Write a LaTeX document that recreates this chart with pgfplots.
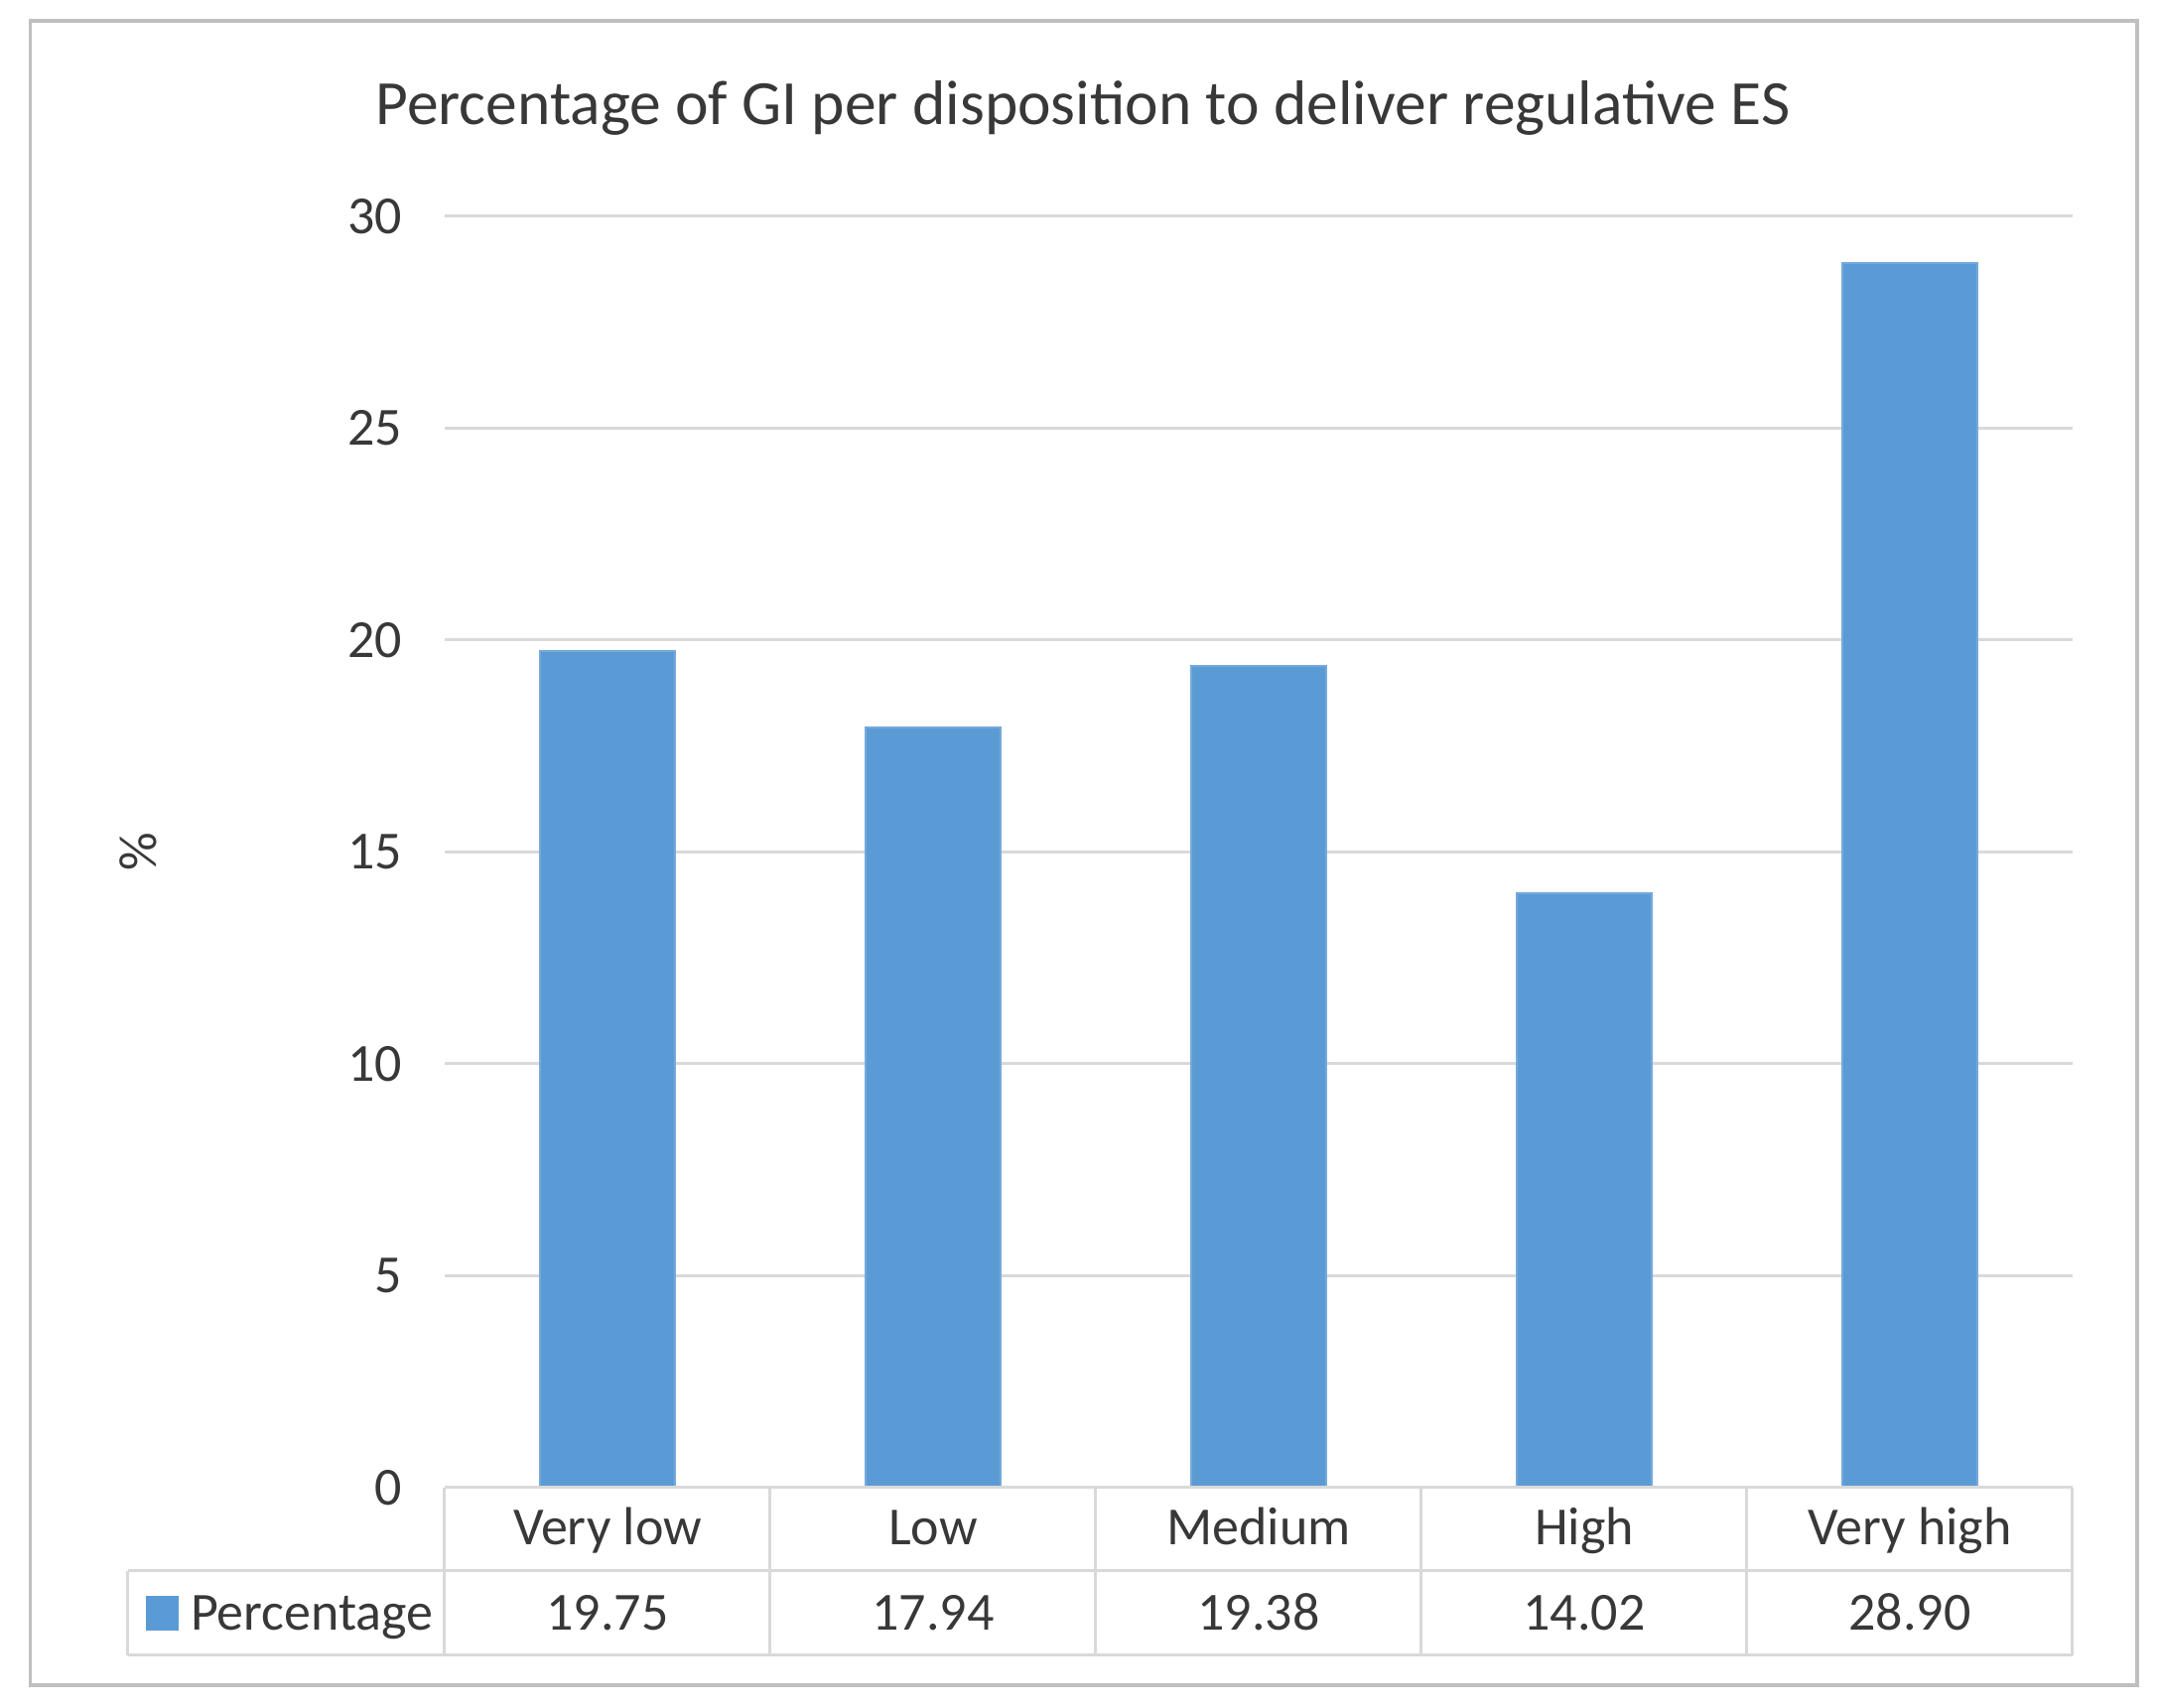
\documentclass[border=0pt]{standalone}
\usepackage{pgfplots}
\pgfplotsset{compat=1.18}
\usepackage{fontspec}
\setmainfont{Carlito}
\definecolor{barblue}{HTML}{5B9BD5}
\definecolor{gridgray}{HTML}{D9D9D9}
\definecolor{txt}{HTML}{383838}
\definecolor{bordergray}{HTML}{BFBFBF}
\begin{document}
\begin{tikzpicture}
\path (0pt,0pt) rectangle (434.8pt,344.2pt);
\draw[bordergray, line width=0.7pt] (6.1pt,4.6pt) rectangle (430.6pt,340pt);
\begin{axis}[
  at={(89.6pt,44.4pt)}, anchor=south west,
  scale only axis, width=328pt, height=256.2pt,
  xmin=-0.5, xmax=4.5, ymin=0, ymax=30,
  ytick={0,5,...,30},
  xtick={0,1,2,3,4},
  xticklabels={Very low,Low,Medium,High,Very high},
  axis line style={draw=none},
  tick style={draw=none},
  ymajorgrids,
  grid style={gridgray, line width=0.6pt},
  clip=false,
  ticklabel style={font=\fontsize{10.8}{13}\selectfont, text=txt},
  /pgf/number format/assume math mode=true,
  xticklabel style={anchor=base, yshift=-11.6pt},
  yticklabel style={xshift=-5pt},
  title={Percentage of GI per disposition to deliver regulative ES},
  title style={at={(axis description cs:0.392,1)}, anchor=center, yshift=15.8pt, font=\fontsize{12.7}{15}\selectfont, text=txt},
  ylabel={\%},
  ylabel style={at={(axis description cs:-0.188,0.5)}, anchor=center, font=\fontsize{10.8}{13}\selectfont, text=txt},
]
\addplot[ybar, bar width=27.2pt, fill=barblue, draw=barblue!85!white] coordinates {
  (0,19.75) (1,17.94) (2,19.38) (3,14.02) (4,28.90)
};
% data table
\draw[gridgray, line width=0.6pt] (axis cs:-0.5,0) -- (axis cs:4.5,0);
\draw[gridgray, line width=0.6pt] (axis cs:-1.4726,-1.967) -- (axis cs:4.5,-1.967);
\draw[gridgray, line width=0.6pt] (axis cs:-1.4726,-3.958) -- (axis cs:4.5,-3.958);
\draw[gridgray, line width=0.6pt] (axis cs:-1.4726,-1.967) -- (axis cs:-1.4726,-3.958);
\draw[gridgray, line width=0.6pt] (axis cs:-0.5,0) -- (axis cs:-0.5,-3.958);
\draw[gridgray, line width=0.6pt] (axis cs:0.5,0) -- (axis cs:0.5,-3.958);
\draw[gridgray, line width=0.6pt] (axis cs:1.5,0) -- (axis cs:1.5,-3.958);
\draw[gridgray, line width=0.6pt] (axis cs:2.5,0) -- (axis cs:2.5,-3.958);
\draw[gridgray, line width=0.6pt] (axis cs:3.5,0) -- (axis cs:3.5,-3.958);
\draw[gridgray, line width=0.6pt] (axis cs:4.5,0) -- (axis cs:4.5,-3.958);
\fill[barblue] (axis cs:-1.4177,-2.553) rectangle (axis cs:-1.317,-3.372);
\node[anchor=base west, inner sep=0pt, text=txt, font=\fontsize{10.8}{13}\selectfont] at (axis cs:-1.2835,-3.37) {Percentage};
\node[anchor=base, inner sep=0pt, text=txt, font=\fontsize{10.8}{13}\selectfont] at (axis cs:0,-3.37) {19.75};
\node[anchor=base, inner sep=0pt, text=txt, font=\fontsize{10.8}{13}\selectfont] at (axis cs:1,-3.37) {17.94};
\node[anchor=base, inner sep=0pt, text=txt, font=\fontsize{10.8}{13}\selectfont] at (axis cs:2,-3.37) {19.38};
\node[anchor=base, inner sep=0pt, text=txt, font=\fontsize{10.8}{13}\selectfont] at (axis cs:3,-3.37) {14.02};
\node[anchor=base, inner sep=0pt, text=txt, font=\fontsize{10.8}{13}\selectfont] at (axis cs:4,-3.37) {28.90};
\end{axis}
\end{tikzpicture}
\end{document}
